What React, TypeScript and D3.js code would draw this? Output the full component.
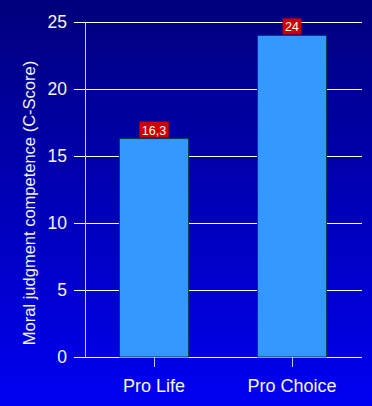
import React, { useEffect, useRef } from "react";
import * as d3 from "d3";

const categories = ["Pro Life", "Pro Choice"];
const values = [16.3, 24];
const valueLabels = ["16,3", "24"];
const yTicks = [0, 5, 10, 15, 20, 25];

const App = () => {
  const svgRef = useRef<SVGSVGElement | null>(null);

  useEffect(() => {
    if (!svgRef.current) return;
    const width = 372;
    const height = 406;
    const root = d3.select(svgRef.current);
    root.selectAll("*").remove();
    root.attr("width", width).attr("height", height);

    // background gradient
    const defs = root.append("defs");
    const grad = defs
      .append("linearGradient")
      .attr("id", "bg")
      .attr("x1", 0)
      .attr("y1", 0)
      .attr("x2", 0)
      .attr("y2", 1);
    grad.append("stop").attr("offset", "0%").attr("stop-color", "#00007c");
    grad.append("stop").attr("offset", "100%").attr("stop-color", "#0000f2");
    root.append("rect").attr("width", width).attr("height", height).attr("fill", "url(#bg)");

    const x = d3
      .scaleBand()
      .domain(categories)
      .range([85, 361])
      .paddingInner(0.5)
      .paddingOuter(0.25);
    const y = d3.scaleLinear().domain([0, 25]).range([357, 22]);

    const font = "Arial, 'Liberation Sans', sans-serif";

    // gridlines + y tick labels
    root
      .selectAll("line.grid")
      .data(yTicks)
      .enter()
      .append("line")
      .attr("x1", 74)
      .attr("x2", 362)
      .attr("y1", (d) => Math.round(y(d)) + 0.5)
      .attr("y2", (d) => Math.round(y(d)) + 0.5)
      .attr("stroke", "#ffffff")
      .attr("stroke-width", 1);

    root
      .selectAll("text.ytick")
      .data(yTicks)
      .enter()
      .append("text")
      .attr("x", 67)
      .attr("y", (d) => y(d))
      .attr("dy", "0.36em")
      .attr("text-anchor", "end")
      .attr("font-family", font)
      .attr("font-size", 17.5)
      .attr("fill", "#f4f4f4")
      .text((d) => d);

    // y axis line
    root
      .append("line")
      .attr("x1", 85.5)
      .attr("x2", 85.5)
      .attr("y1", y(25))
      .attr("y2", y(0))
      .attr("stroke", "#c8c8f0")
      .attr("stroke-width", 1);

    // bars
    root
      .selectAll("rect.bar")
      .data(values)
      .enter()
      .append("rect")
      .attr("x", (_, i) => x(categories[i])!)
      .attr("y", (d) => y(d))
      .attr("width", x.bandwidth())
      .attr("height", (d) => y(0) - y(d))
      .attr("fill", "#3399ff")
      .attr("stroke", "#0a3a5a")
      .attr("stroke-width", 1);

    // category ticks
    root
      .selectAll("line.xtick")
      .data(categories)
      .enter()
      .append("line")
      .attr("x1", (d) => Math.round(x(d)! + x.bandwidth() / 2) + 0.5)
      .attr("x2", (d) => Math.round(x(d)! + x.bandwidth() / 2) + 0.5)
      .attr("y1", y(0))
      .attr("y2", y(0) + 10)
      .attr("stroke", "#c8c8f0")
      .attr("stroke-width", 1);

    root
      .selectAll("text.xlabel")
      .data(categories)
      .enter()
      .append("text")
      .attr("x", (d) => x(d)! + x.bandwidth() / 2)
      .attr("y", 392)
      .attr("text-anchor", "middle")
      .attr("font-family", font)
      .attr("font-size", 18)
      .attr("fill", "#f4f4f4")
      .text((d) => d);

    // value labels in red boxes
    const lbl = root
      .selectAll("g.vlabel")
      .data(values)
      .enter()
      .append("g")
      .attr(
        "transform",
        (d, i) => `translate(${x(categories[i])! + x.bandwidth() / 2}, ${y(d) - 1})`
      );
    lbl
      .append("text")
      .attr("y", -3)
      .attr("text-anchor", "middle")
      .attr("font-family", font)
      .attr("font-size", 12.5)
      .attr("fill", "#ffffff")
      .text((_, i) => valueLabels[i])
      .each(function () {
        const bb = (this as SVGTextElement).getBBox();
        d3.select((this as SVGTextElement).parentNode as SVGGElement)
          .insert("rect", "text")
          .attr("x", bb.x - 2.5)
          .attr("y", -16)
          .attr("width", bb.width + 5)
          .attr("height", 16)
          .attr("fill", "#cc0000");
      });

    // y axis title
    root
      .append("text")
      .attr("transform", "translate(35, 203) rotate(-90)")
      .attr("text-anchor", "middle")
      .attr("font-family", font)
      .attr("font-size", 16.5)
      .attr("fill", "#f4f4f4")
      .text("Moral judgment competence (C-Score)");
  }, []);

  return <svg ref={svgRef} style={{ position: "absolute", left: 0, top: 0, display: "block" }} />;
};

export default App;
